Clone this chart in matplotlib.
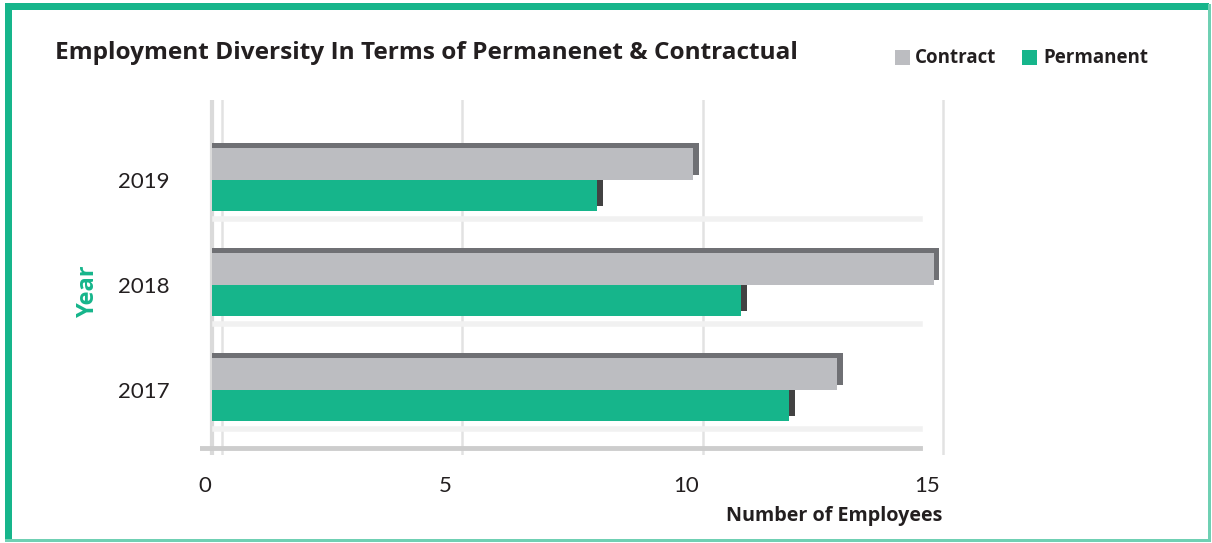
import matplotlib.pyplot as plt
import matplotlib.transforms as mtransforms
from matplotlib.patches import Rectangle

years = ["2017", "2018", "2019"]
contract = [13, 15, 10]
permanent = [12, 11, 8]
xticks = [0, 5, 10, 15]

GREEN = "#16b58b"
GREY = "#bcbdc1"
TEXT = "#231f20"

plt.rcParams["font.family"] = ["Lato", "DejaVu Sans"]
BOLD = ["Open Sans", "DejaVu Sans"]

W, H = 1212, 543
fig = plt.figure(figsize=(W / 100, H / 100), dpi=100)

# frame round the card
fig.patches.append(Rectangle((5 / W, 1 - 10 / H), (W - 8) / W, 7 / H, transform=fig.transFigure,
                             color=GREEN, lw=0))
fig.patches.append(Rectangle((5 / W, 1.5 / H), 7 / W, 1 - 5 / H, transform=fig.transFigure,
                             color=GREEN, lw=0))
fig.patches.append(Rectangle(((W - 4) / W, 1.5 / H), 2.5 / W, 1 - 5 / H, transform=fig.transFigure,
                             color="#6fd0b3", lw=0))
fig.patches.append(Rectangle((5 / W, 1.5 / H), (W - 8) / W, 2.5 / H, transform=fig.transFigure,
                             color="#6fd0b3", lw=0))

ax = fig.add_axes([200 / W, 1 - 455 / H, 750 / W, 355 / H])

y = list(range(len(years)))
h = 0.30
depth_x = 0.12
depth_y = 0.05

# faint back-wall grid and floor
for t in xticks:
    ax.axvline(t + 0.2, color="#e2e2e2", lw=1.8, zorder=0)
ax.axvline(0.0, color="#dadada", lw=3, zorder=0)
ax.axhline(-0.55, xmin=0.0, xmax=0.96, color="#cdcdcd", lw=3.5, zorder=0)
for yy in y:
    ax.axhline(yy - h - 0.07, xmin=0.02, xmax=0.96, color="#f1f1f1", lw=4, zorder=0)

# dark depth faces
yc = [v + h / 2 for v in y]
yp = [v - h / 2 for v in y]
ax.barh([v + depth_y for v in yc], [c + depth_x for c in contract], height=h, color="#6f7074", zorder=2)
ax.barh([v + depth_y for v in yp], [p + depth_x for p in permanent], height=h, color="#424242", zorder=1)
ax.barh(yp, permanent, height=h, color=GREEN, zorder=3, label="Permanent")
ax.barh(yc, contract, height=h, color=GREY, zorder=4, label="Contract")

ax.set_xlim(-0.25, 15.34)
ax.set_ylim(-0.62, 2.76)
ax.set_xticks(xticks)
ax.set_xticklabels([str(t) for t in xticks], fontsize=16, color=TEXT)
ax.set_yticks(y)
ax.set_yticklabels(years, fontsize=16, color=TEXT)
ax.tick_params(axis="x", length=0, pad=15)
ax.tick_params(axis="y", length=0, pad=22)
for s in ax.spines.values():
    s.set_visible(False)

# labels sit a little left of the bar origin (perspective)
shift = mtransforms.ScaledTranslation(-7 / 100, 0, fig.dpi_scale_trans)
for lab in ax.get_xticklabels():
    lab.set_transform(lab.get_transform() + shift)

fig.text(55 / W, 1 - 53 / H, "Employment Diversity In Terms of Permanenet & Contractual",
         fontsize=17.6, fontweight="bold", family=BOLD, color=TEXT, va="center", ha="left")
fig.text(942 / W, 1 - 516 / H, "Number of Employees", fontsize=14.2, fontweight="bold", family=BOLD,
         color=TEXT, va="center", ha="right")
fig.text(88 / W, 1 - 291 / H, "Year", fontsize=17, fontweight="bold", family=BOLD, color=GREEN,
         rotation=90, va="center", ha="center")

# legend
fig.patches.append(Rectangle((895 / W, 1 - 65 / H), 15 / W, 15 / H, transform=fig.transFigure,
                             color=GREY, lw=0))
fig.text(915 / W, 1 - 58 / H, "Contract", fontsize=13.5, fontweight="bold", family=BOLD,
         color=TEXT, va="center")
fig.patches.append(Rectangle((1022 / W, 1 - 65 / H), 15 / W, 15 / H, transform=fig.transFigure,
                             color=GREEN, lw=0))
fig.text(1043 / W, 1 - 58 / H, "Permanent", fontsize=13.5, fontweight="bold", family=BOLD,
         color=TEXT, va="center")

fig.savefig("out.png", dpi=100)
